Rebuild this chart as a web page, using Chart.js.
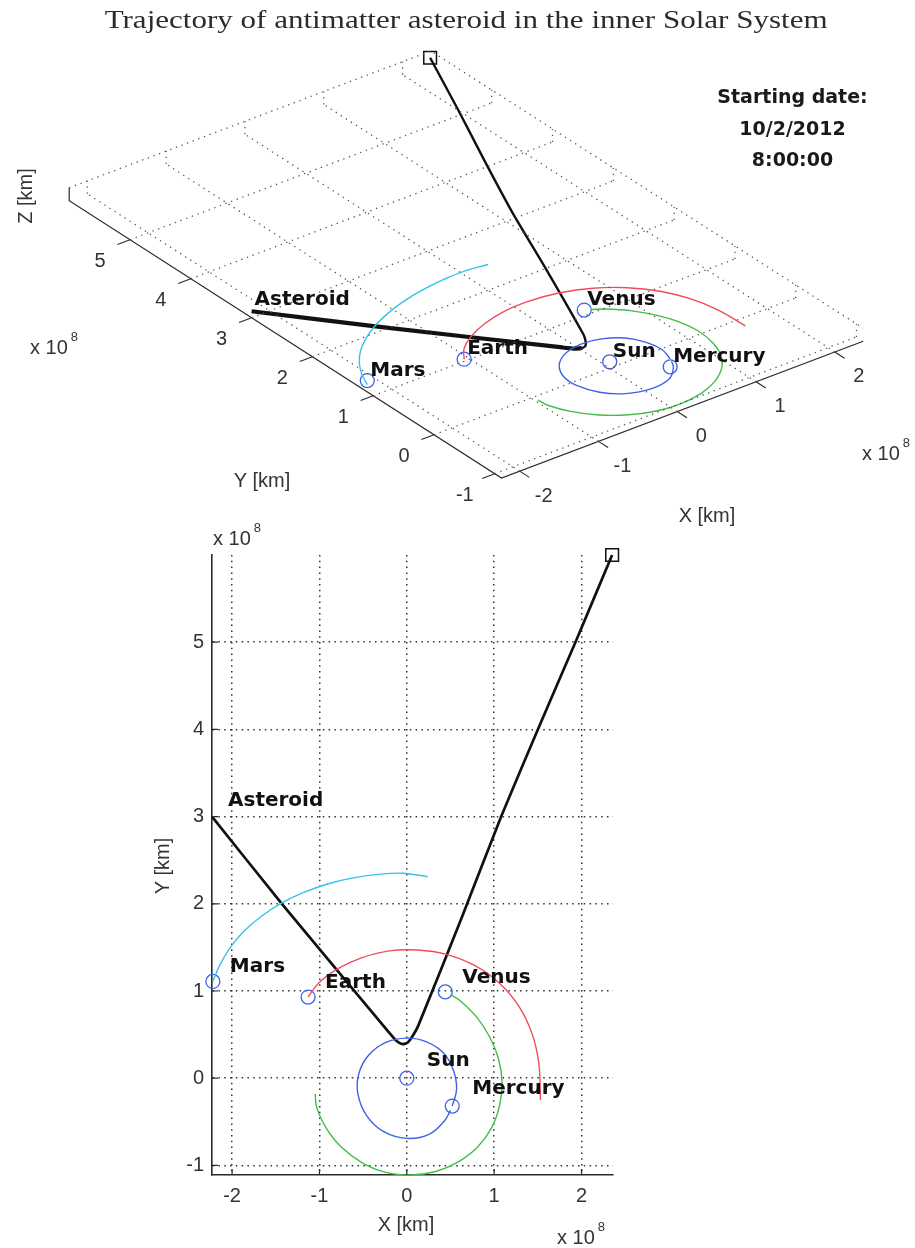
<!DOCTYPE html>
<html>
<head>
<meta charset="utf-8">
<title>Antimatter asteroid trajectory</title>
<script src="https://cdn.jsdelivr.net/npm/chart.js@4.4.0/dist/chart.umd.min.js"></script>
<style>
  html, body { margin: 0; padding: 0; background: #fff; }
  body { width: 915px; height: 1248px; position: relative; overflow: hidden; }
  canvas { position: absolute; left: 0; }
  #view3d { top: 0; }
  #plane2d { top: 520px; }
  #title {
    position: absolute; top: 6px; left: 9px; width: 915px; text-align: center;
    font: 25px "Liberation Serif", serif; color: #2b2b2b; white-space: nowrap;
  }
  #title span { display: inline-block; }
  #startDate {
    position: absolute; left: 700px; top: 81px; width: 185px; text-align: center;
    font: bold 19px "DejaVu Sans", sans-serif; line-height: 31.5px; color: #1a1a1a;
  }
</style>
</head>
<body>
<canvas id="view3d" width="915" height="540"></canvas>
<canvas id="plane2d" width="915" height="728"></canvas>
<div id="title"><span>Trajectory of antimatter asteroid in the inner Solar System</span></div>
<div id="startDate">Starting date:<br>10/2/2012<br>8:00:00</div>

<script>
// ===== Data (distances in units of 10^8 km) =====
const xTicks = [-2, -1, 0, 1, 2];
const yTicks = [-1, 0, 1, 2, 3, 4, 5];
const xLimits = [-2.23, 2.36];
const yLimits = [-1.11, 6.0];
const zLimits = [-0.08, 0.08];

const bodyNames = ['Mars', 'Earth', 'Venus', 'Sun', 'Mercury'];
const bodyX = [-2.22, -1.13, 0.44, 0.00, 0.52];
const bodyY = [1.11, 0.93, 0.99, 0.00, -0.32];
const bodyZ = [0.05, 0.00, 0.00, 0.00, -0.10];

const asteroidX = [-2.23, -1.43, -0.20, -0.12, -0.05, 0.01, 0.07, 0.13, 0.62, 1.08, 1.50, 1.93, 2.35];
const asteroidY = [3.00, 2.00, 0.52, 0.43, 0.39, 0.41, 0.49, 0.60, 1.82, 3.00, 4.00, 5.00, 6.00];

const marsOrbitX = [-2.22, -2.14, -2.02, -1.86, -1.66, -1.43, -1.18, -0.90, -0.60, -0.30, -0.04, 0.24];
const marsOrbitY = [1.11, 1.30, 1.50, 1.69, 1.86, 2.01, 2.13, 2.23, 2.30, 2.34, 2.35, 2.31];

const earthOrbitX = [-1.13, -1.00, -0.80, -0.52, -0.20, 0.12, 0.45, 0.78, 1.06, 1.28, 1.43, 1.51, 1.53];
const earthOrbitY = [0.93, 1.10, 1.25, 1.38, 1.46, 1.47, 1.42, 1.29, 1.09, 0.83, 0.52, 0.18, -0.25];

const venusOrbitX = [0.50, 0.62, 0.80, 0.95, 1.05, 1.09, 1.06, 0.97, 0.81, 0.59, 0.33, 0.05, -0.24, -0.51, -0.75, -0.93, -1.03, -1.05];
const venusOrbitY = [0.96, 0.88, 0.70, 0.47, 0.22, -0.05, -0.32, -0.57, -0.79, -0.96, -1.07, -1.11, -1.08, -0.97, -0.79, -0.56, -0.34, -0.18];

const mercuryOrbitX = [0.52, 0.57, 0.53, 0.42, 0.22, 0.00, -0.24, -0.44, -0.55, -0.56, -0.46, -0.27, 0.00, 0.26, 0.43, 0.50];
const mercuryOrbitY = [-0.32, -0.12, 0.10, 0.29, 0.42, 0.46, 0.41, 0.26, 0.05, -0.18, -0.43, -0.61, -0.69, -0.64, -0.49, -0.37];

// ===== Styles =====
const COLORS = {
    mars: '#35c3ea',
    earth: '#f04c5c',
    venus: '#40bd4a',
    mercury: '#3d62e6',
    marker: '#3d62e6',
    path: '#111111',
    axis: '#2a2a2a'
};
const LABEL_FONT = 'bold 20px "DejaVu Sans"';
const TICK_FONT = '20px "Liberation Sans"';
const AXIS_FONT = '20px "Liberation Sans"';

// fit the title to the width of the original
const titleSpan = document.querySelector('#title span');
titleSpan.style.transform = `scaleX(${723 / titleSpan.getBoundingClientRect().width})`;

// ===== Helpers =====
const pairs = (xs, ys) => xs.map((x, i) => ({ x, y: ys[i] }));

// 3D view: floor corner (xmin, ymin, zmin) sits at VIEW.o on the page,
// e* are page-pixel steps for one unit along each data axis
const VIEW = { o: [501.5, 478], ex: [78.8, -29.8], ey: [-60.8, -39.0], ez: [0, -81] };

function project(x, y, z = 0) {
    const dx = x - xLimits[0], dy = y - yLimits[0], dz = z - zLimits[0];
    return {
        x: VIEW.o[0] + dx * VIEW.ex[0] + dy * VIEW.ey[0] + dz * VIEW.ez[0],
        y: VIEW.o[1] + dx * VIEW.ex[1] + dy * VIEW.ey[1] + dz * VIEW.ez[1]
    };
}
const projectAll = (xs, ys, zs) => xs.map((x, i) => project(x, ys[i], zs ? zs[i] : 0));

function lineSet(data, color, width, extra = {}) {
    return {
        data, showLine: true, borderColor: color, borderWidth: width,
        pointRadius: 0, pointHoverRadius: 0, fill: false, tension: 0, clip: false, ...extra
    };
}
const dotted = (data) => lineSet(data, '#555', 1.3, { borderDash: [1.3, 4.7] });

function markerSet(data, style, radius, color, width) {
    return {
        data, showLine: false, pointStyle: style, pointRadius: radius, pointHoverRadius: radius,
        borderColor: color, pointBorderColor: color, borderWidth: width, pointBorderWidth: width,
        backgroundColor: 'rgba(0,0,0,0)', pointBackgroundColor: 'rgba(0,0,0,0)', clip: false
    };
}

function drawExponent(ctx, x, y) {
    ctx.save();
    ctx.fillStyle = '#333';
    ctx.textAlign = 'left';
    ctx.textBaseline = 'alphabetic';
    ctx.font = '20px "Liberation Sans"';
    ctx.fillText('x 10', x, y);
    const w = ctx.measureText('x 10').width;
    ctx.font = '13px "Liberation Sans"';
    ctx.fillText('8', x + w + 3, y - 13);
    ctx.restore();
}

const turnIndex = asteroidY.indexOf(Math.min(...asteroidY));
const orbitSeries = [
    [marsOrbitX, marsOrbitY, COLORS.mars],
    [earthOrbitX, earthOrbitY, COLORS.earth],
    [venusOrbitX, venusOrbitY, COLORS.venus],
    [mercuryOrbitX, mercuryOrbitY, COLORS.mercury]
];

// ===== 3D view (top) =====
const zf = zLimits[0], zt = zLimits[1];
const view3dSets = [];

// floor grid
yTicks.forEach(v => view3dSets.push(dotted([project(xLimits[0], v, zf), project(xLimits[1], v, zf)])));
xTicks.forEach(v => view3dSets.push(dotted([project(v, yLimits[0], zf), project(v, yLimits[1], zf)])));
// back walls
view3dSets.push(dotted([project(xLimits[0], yLimits[1], zt), project(xLimits[1], yLimits[1], zt), project(xLimits[1], yLimits[0], zt)]));
xTicks.forEach(v => view3dSets.push(dotted([project(v, yLimits[1], zf), project(v, yLimits[1], zt)])));
yTicks.forEach(v => view3dSets.push(dotted([project(xLimits[1], v, zf), project(xLimits[1], v, zt)])));

// axes and tick marks
view3dSets.push(lineSet([project(xLimits[0], yLimits[1], zt), project(xLimits[0], yLimits[1], zf),
    project(xLimits[0], yLimits[0], zf), project(xLimits[1], yLimits[0], zf)], COLORS.axis, 1.2));
yTicks.forEach(v => view3dSets.push(lineSet([project(xLimits[0], v, zf), project(xLimits[0] - 0.16, v, zf)], COLORS.axis, 1.1)));
xTicks.forEach(v => view3dSets.push(lineSet([project(v, yLimits[0], zf), project(v, yLimits[0] - 0.16, zf)], COLORS.axis, 1.1)));

// orbits, path, bodies
orbitSeries.forEach(([xs, ys, c]) => view3dSets.push(lineSet(projectAll(xs, ys), c, 1.4, { tension: 0.4 })));
view3dSets.push(lineSet(projectAll(asteroidX, asteroidY), COLORS.path, 2.4, {
    tension: 0.2,
    segment: { borderWidth: c => (c.p0DataIndex < turnIndex ? 4.2 : 2.4) }
}));
view3dSets.push(markerSet(projectAll(bodyX, bodyY, bodyZ), 'circle', 7, COLORS.marker, 1.3));
view3dSets.push(markerSet([project(asteroidX.at(-1), asteroidY.at(-1))], 'rect', 9, COLORS.path, 1.5));

const view3dText = {
    id: 'view3dText',
    afterDatasetsDraw(chart) {
        const { ctx, scales: { x, y } } = chart;
        const at = p => [x.getPixelForValue(p.x), y.getPixelForValue(p.y)];
        ctx.save();

        ctx.font = LABEL_FONT;
        ctx.fillStyle = '#111';
        ctx.textAlign = 'left';
        ctx.textBaseline = 'alphabetic';
        bodyNames.forEach((name, i) => {
            const [px, py] = at(project(bodyX[i], bodyY[i], bodyZ[i]));
            ctx.fillText(name, px + 3, py - 5);
        });
        const [ax, ay] = at(project(asteroidX[0], asteroidY[0]));
        ctx.fillText('Asteroid', ax + 3, ay - 6);

        ctx.font = TICK_FONT;
        ctx.fillStyle = '#333';
        ctx.textAlign = 'center';
        ctx.textBaseline = 'middle';
        yTicks.forEach(v => {
            const [px, py] = at(project(xLimits[0], v, zf));
            ctx.fillText(String(v), px - 30, py + 22);
        });
        xTicks.forEach(v => {
            const [px, py] = at(project(v, yLimits[0], zf));
            ctx.fillText(String(v), px + 24, py + 25);
        });

        ctx.font = AXIS_FONT;
        ctx.fillText('Y [km]', 262, 481);
        ctx.fillText('X [km]', 707, 516);
        ctx.save();
        ctx.translate(26, 196);
        ctx.rotate(-Math.PI / 2);
        ctx.fillText('Z [km]', 0, 0);
        ctx.restore();

        drawExponent(ctx, 30, 354);
        drawExponent(ctx, 862, 460);
        ctx.restore();
    }
};

new Chart(document.getElementById('view3d'), {
    type: 'scatter',
    data: { datasets: view3dSets },
    options: {
        responsive: false,
        animation: false,
        events: [],
        layout: { padding: 0, autoPadding: false },
        plugins: { legend: { display: false }, tooltip: { enabled: false } },
        scales: {
            x: { type: 'linear', min: 0, max: 915, display: false },
            y: { type: 'linear', min: 0, max: 540, reverse: true, display: false }
        }
    },
    plugins: [view3dText]
});

// ===== XY plane (bottom) =====
const plane2dText = {
    id: 'plane2dText',
    afterDatasetsDraw(chart) {
        const { ctx, chartArea, scales: { x, y } } = chart;
        ctx.save();

        // MATLAB style inward ticks
        ctx.strokeStyle = COLORS.axis;
        ctx.lineWidth = 1.2;
        ctx.beginPath();
        xTicks.forEach(v => {
            const px = x.getPixelForValue(v);
            ctx.moveTo(px, chartArea.bottom);
            ctx.lineTo(px, chartArea.bottom - 6);
        });
        yTicks.forEach(v => {
            const py = y.getPixelForValue(v);
            ctx.moveTo(chartArea.left, py);
            ctx.lineTo(chartArea.left + 6, py);
        });
        ctx.stroke();

        ctx.font = LABEL_FONT;
        ctx.fillStyle = '#111';
        ctx.textAlign = 'left';
        ctx.textBaseline = 'alphabetic';
        bodyNames.forEach((name, i) => {
            const nudge = (name === 'Sun' || name === 'Mercury') ? [20, -12] : [17, -9];
            ctx.fillText(name, x.getPixelForValue(bodyX[i]) + nudge[0], y.getPixelForValue(bodyY[i]) + nudge[1]);
        });
        ctx.fillText('Asteroid', x.getPixelForValue(asteroidX[0]) + 16, y.getPixelForValue(asteroidY[0]) - 11);

        ctx.font = AXIS_FONT;
        ctx.fillStyle = '#333';
        ctx.textAlign = 'center';
        ctx.textBaseline = 'middle';
        ctx.fillText('X [km]', 406, 705);
        ctx.save();
        ctx.translate(163, 346);
        ctx.rotate(-Math.PI / 2);
        ctx.fillText('Y [km]', 0, 0);
        ctx.restore();

        drawExponent(ctx, 213, 25);
        drawExponent(ctx, 557, 724);
        ctx.restore();
    }
};

const planeSets = orbitSeries.map(([xs, ys, c]) => lineSet(pairs(xs, ys), c, 1.4, { tension: 0.4 }));
planeSets.push(lineSet(pairs(asteroidX, asteroidY), COLORS.path, 2.7, { tension: 0.2 }));
planeSets.push(markerSet(pairs(bodyX, bodyY), 'circle', 7, COLORS.marker, 1.3));
planeSets.push(markerSet([{ x: asteroidX.at(-1), y: asteroidY.at(-1) }], 'rect', 9, COLORS.path, 1.5));

const axisStyle = (ticks, fit) => ({
    type: 'linear',
    afterBuildTicks: s => { s.ticks = ticks.map(v => ({ value: v })); },
    afterFit: fit,
    grid: { color: '#333', lineWidth: 1.5, drawTicks: false, borderDash: [1.5, 4.3] },
    border: { display: true, color: COLORS.axis, width: 1.6, dash: [1.5, 4.3] },
    ticks: { color: '#333', font: { family: 'Liberation Sans', size: 20 }, maxRotation: 0, autoSkip: false }
});

const xAxis = axisStyle(xTicks, s => { s.height = 73; });
xAxis.min = xLimits[0];
xAxis.max = xLimits[1];
xAxis.ticks.padding = 9;
const yAxis = axisStyle(yTicks, s => { s.width = 212; });
yAxis.min = yLimits[0];
yAxis.max = yLimits[1];
yAxis.ticks.padding = 8;

new Chart(document.getElementById('plane2d'), {
    type: 'scatter',
    data: { datasets: planeSets },
    options: {
        responsive: false,
        animation: false,
        events: [],
        layout: { padding: { left: 0, right: 302, top: 35, bottom: 0 }, autoPadding: false },
        plugins: { legend: { display: false }, tooltip: { enabled: false } },
        scales: { x: xAxis, y: yAxis }
    },
    plugins: [plane2dText]
});
</script>
</body>
</html>
